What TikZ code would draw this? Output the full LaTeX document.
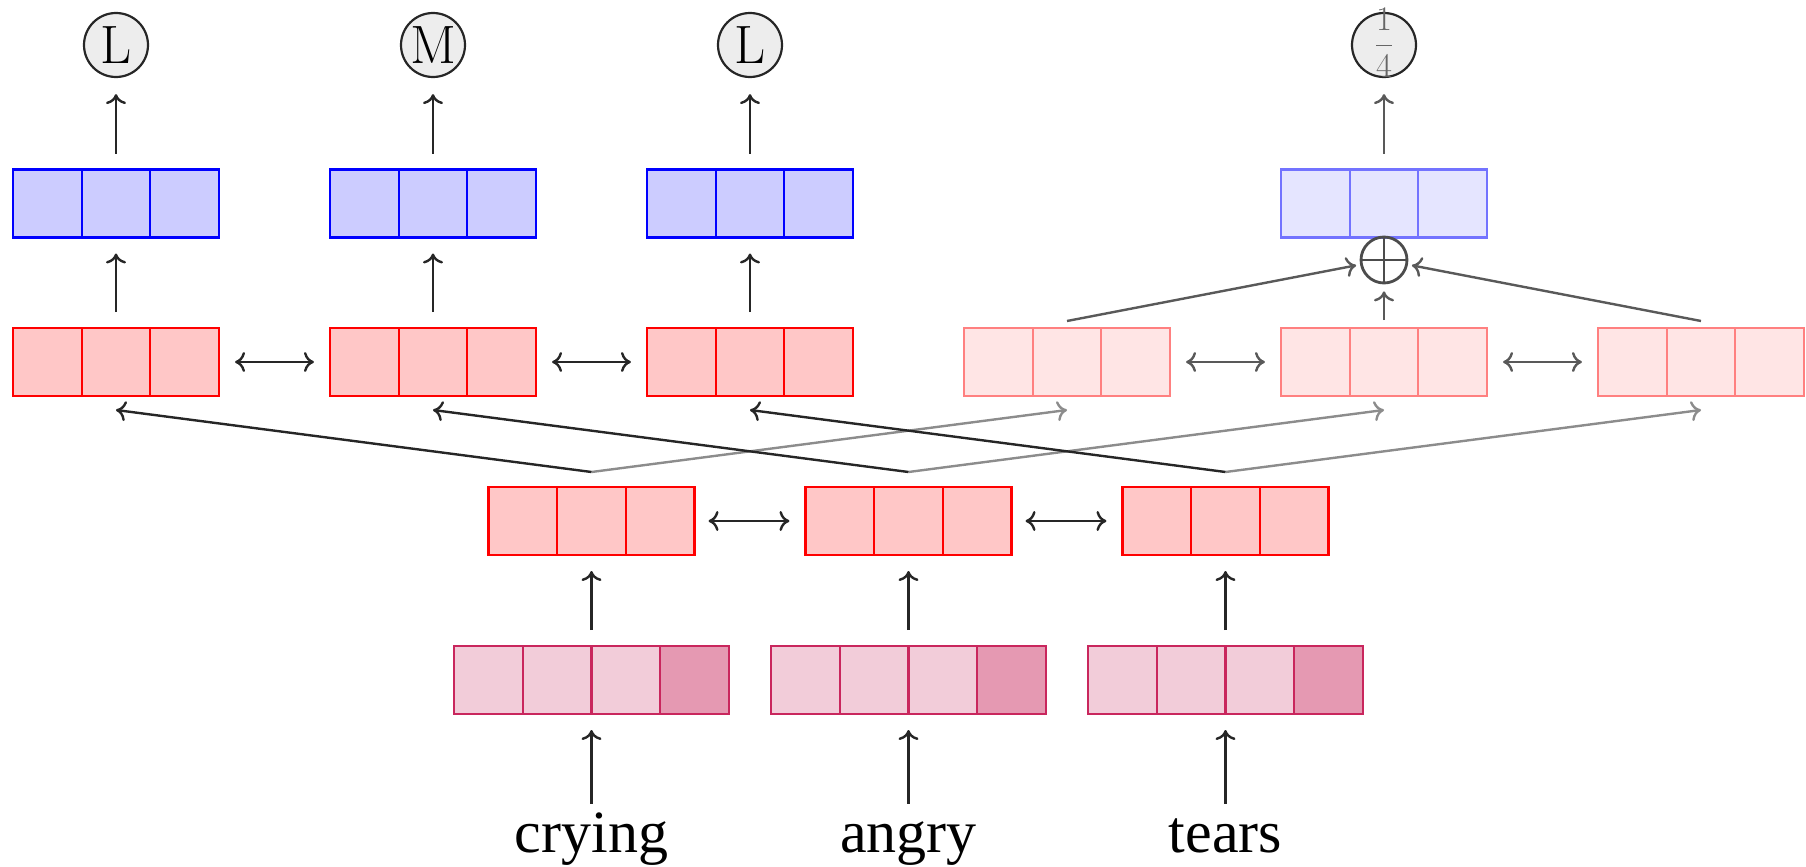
\documentclass[tikz,border=0pt]{standalone}
\usepackage{fontspec}
\newfontfamily\wordfont{Liberation Serif}
\usetikzlibrary{arrows.meta,calc}

% vertical dividers inside a cell row: node name, number of cells, colour
\newcommand\celldividers[3]{%
  \pgfmathtruncatemacro\lastcell{#2-1}%
  \foreach \k in {1,...,\lastcell}{%
    \draw[#3, line width=1.1pt] ($(#1.north west)+(\k*34.35pt,0pt)$) -- ($(#1.south west)+(\k*34.35pt,0pt)$);
  }%
}

\tikzset{
  cellrow/.style={draw, line width=1.1pt, inner sep=0pt, outer sep=0pt,
    minimum height=34pt, minimum width=#1*34.35pt},
  bluerow/.style={cellrow=3, fill=blue!20, draw=blue},
  bluefaded/.style={cellrow=3, fill=blue!10, draw=blue!55},
  redrow/.style={cellrow=3, fill=red!22, draw=red},
  redfaded/.style={cellrow=3, fill=red!10, draw=red!50},
  embrow/.style={cellrow=4, fill=purple!20, draw=purple!85},
  label/.style={circle, draw=black!85, line width=1.1pt, fill=black!7,
    minimum size=32pt, inner sep=0pt, font=\fontsize{27}{32}\selectfont},
  word/.style={inner sep=0pt, text height=0.7em, anchor=base,
    font=\wordfont\fontsize{30}{36}\selectfont},
  tip/.style={line width=1.2pt, -{To[length=5pt,width=10pt]}},
  arr/.style={tip, draw=black!85},
  arrfaded/.style={tip, draw=black!65},
  arrlight/.style={tip, draw=black!45},
  both/.style={line width=1.2pt, {To[length=5pt,width=10pt]}-{To[length=5pt,width=10pt]}},
}

\begin{document}
\begin{tikzpicture}[x=0.5pt,y=-0.5pt]
\useasboundingbox (0,0) rectangle (1806,867);

% output labels
\node[label] (c1) at (116,45) {L};
\node[label] (c2) at (433,45) {M};
\node[label] (c3) at (750,45) {L};
\node[label, text=black!60, font=\fontsize{17.5}{20}\selectfont] (c4) at (1384,45)
  {\raisebox{-4.4pt}[0pt][0pt]{$\displaystyle\frac{1}{4}$}};

% output vectors
\node[bluerow] (b1) at (116,203.5) {};
\node[bluerow] (b2) at (433,203.5) {};
\node[bluerow] (b3) at (750,203.5) {};
\node[bluefaded] (b4) at (1384,203.5) {};
\celldividers{b1}{3}{blue}
\celldividers{b2}{3}{blue}
\celldividers{b3}{3}{blue}
\celldividers{b4}{3}{blue!55}

% upper recurrent layer
\node[redrow] (m1) at (116,362) {};
\node[redrow] (m2) at (433,362) {};
\node[redrow] (m3) at (750,362) {};
\node[redfaded] (m4) at (1067,362) {};
\node[redfaded] (m5) at (1384,362) {};
\node[redfaded] (m6) at (1701,362) {};
\foreach \n in {m1,m2,m3}{\celldividers{\n}{3}{red}}
\foreach \n in {m4,m5,m6}{\celldividers{\n}{3}{red!50}}

% summation
\node[circle, draw=black!70, line width=1.4pt, minimum size=23pt, inner sep=0pt] (op) at (1384,260) {};
\draw[black!70, line width=1.4pt] (op.north) -- (op.south) (op.west) -- (op.east);

% lower recurrent layer
\node[redrow] (l1) at (591.5,521) {};
\node[redrow] (l2) at (908.5,521) {};
\node[redrow] (l3) at (1225.5,521) {};
\foreach \n in {l1,l2,l3}{\celldividers{\n}{3}{red}}

% word embeddings with an extra feature cell
\foreach \n/\x in {e1/591.5,e2/908.5,e3/1225.5}{
  \node[embrow] (\n) at (\x,680) {};
  \fill[purple!40] ($(\n.north east)+(-34.35pt,0pt)$) rectangle (\n.south east);
  \draw[purple!85, line width=1.1pt] (\n.north west) rectangle (\n.south east);
  \celldividers{\n}{4}{purple!85}
}

% input words
\node[word] (w1) at (591.5,852) {crying};
\node[word] (w2) at (908.5,852) {angry};
\node[word] (w3) at (1225.5,852) {tears};

% vertical flow
\foreach \i in {1,2,3}{
  \draw[arr, shorten <=17pt, shorten >=8pt] (w\i.north) -- (e\i.north |- e\i.south);
  \draw[arr, shorten <=8pt, shorten >=8pt] (e\i.north) -- (l\i.south);
  \draw[arr, shorten <=8pt, shorten >=8pt] (m\i.north) -- (b\i.south);
  \draw[arr, shorten <=8pt, shorten >=8pt] (b\i.north) -- (c\i.south);
}
\draw[arrfaded, shorten <=8pt, shorten >=8pt] (b4.north) -- (c4.south);

% horizontal links
\draw[both, black!85, shorten <=8pt, shorten >=8pt] (m1.east) -- (m2.west);
\draw[both, black!85, shorten <=8pt, shorten >=8pt] (m2.east) -- (m3.west);
\draw[both, black!65, shorten <=8pt, shorten >=8pt] (m4.east) -- (m5.west);
\draw[both, black!65, shorten <=8pt, shorten >=8pt] (m5.east) -- (m6.west);
\draw[both, black!85, shorten <=7pt, shorten >=8pt] (l1.east) -- (l2.west);
\draw[both, black!85, shorten <=7pt, shorten >=8pt] (l2.east) -- (l3.west);

% summation inputs
\coordinate (s4) at ([yshift=3.5pt]m4.north);
\coordinate (s5) at ([yshift=4pt]m5.north);
\coordinate (s6) at ([yshift=3.5pt]m6.north);
\draw[arrfaded, shorten >=2pt] (s4) -- (op);
\draw[arrfaded, shorten >=2pt] (s6) -- (op);
\draw[arrfaded, shorten >=3.5pt] (s5) -- (op.south);

% forks from the lower layer to both upper branches
\foreach \i/\a/\b in {1/m1/m4,2/m2/m5,3/m3/m6}{
  \coordinate (j\i) at ([yshift=7.5pt]l\i.north);
  \coordinate (ta\i) at ([yshift=-7pt]\a.south);
  \coordinate (tb\i) at ([yshift=-7pt]\b.south);
  \draw[arrlight] (j\i) -- (tb\i);
  \draw[arr] (j\i) -- (ta\i);
}
\end{tikzpicture}
\end{document}
